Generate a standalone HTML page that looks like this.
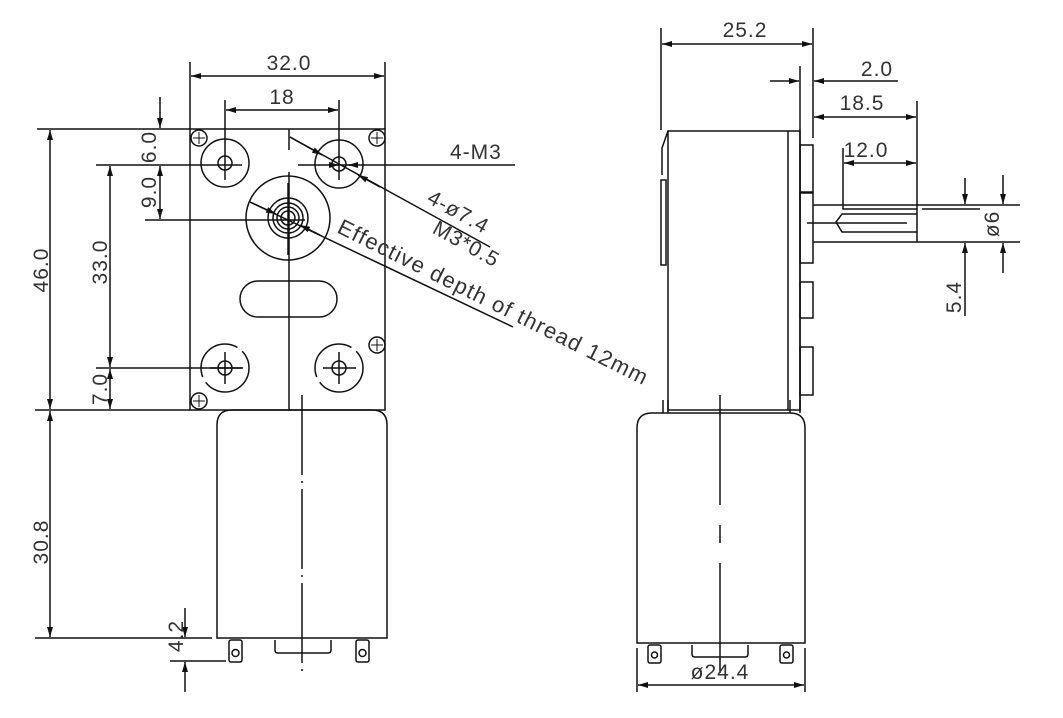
<!DOCTYPE html>
<html><head><meta charset="utf-8"><style>
html,body{margin:0;padding:0;background:#fff}
svg{display:block}
text{font-family:"Liberation Sans",sans-serif;font-size:21px;letter-spacing:1px;fill:#333}
</style></head><body>
<svg width="1063" height="718" viewBox="0 0 1063 718" xmlns="http://www.w3.org/2000/svg">
<defs>
<marker id="a" viewBox="0 0 10 6" refX="10" refY="3" markerWidth="10" markerHeight="6" orient="auto-start-reverse" markerUnits="userSpaceOnUse">
<path d="M0,0 L10,3 L0,6 z" fill="#111"/></marker>
</defs>
<g stroke="#111" stroke-width="1.5" fill="none">
<rect x="190" y="129" width="195" height="281"/>
<line x1="37" y1="129" x2="190" y2="129"/>
<line x1="35" y1="410" x2="190" y2="410"/>
<line x1="289" y1="129" x2="289" y2="150"/>
<line x1="289" y1="172" x2="289" y2="410"/>
<circle cx="225" cy="163" r="24"/><circle cx="225" cy="163" r="7"/>
<circle cx="339" cy="164" r="24"/><circle cx="339" cy="164" r="7"/>
<circle cx="225" cy="368" r="24" stroke-dasharray="60 6"/><circle cx="225" cy="368" r="7"/>
<circle cx="339" cy="368" r="24" stroke-dasharray="60 6"/><circle cx="339" cy="368" r="7"/>
<line x1="225" y1="100" x2="225" y2="180"/>
<line x1="339" y1="100" x2="339" y2="180"/>
<line x1="225" y1="352" x2="225" y2="384"/><line x1="210" y1="368" x2="243" y2="368"/>
<line x1="339" y1="352" x2="339" y2="384"/><line x1="323" y1="368" x2="356" y2="368"/>
<circle cx="288" cy="218" r="42"/>
<circle cx="288" cy="218" r="20"/><circle cx="288" cy="218" r="15"/>
<circle cx="288" cy="218" r="11"/><circle cx="288" cy="218" r="7"/>
<line x1="288" y1="183" x2="288" y2="255"/>
<rect x="240" y="281" width="97" height="36" rx="18"/>
<circle cx="199" cy="138" r="8"/><circle cx="377" cy="138" r="8"/>
<circle cx="377" cy="345" r="8"/><circle cx="199" cy="401" r="8"/>
<path d="M193,138h12M199,132v12M371,138h12M377,132v12M371,345h12M377,339v12M193,401h12M199,395v12" stroke-width="1"/>
<line x1="190" y1="62" x2="190" y2="129"/><line x1="385" y1="62" x2="385" y2="129"/>
<line x1="191" y1="76" x2="384" y2="76" marker-start="url(#a)" marker-end="url(#a)"/>
<line x1="226" y1="110" x2="338" y2="110" marker-start="url(#a)" marker-end="url(#a)"/>
<line x1="50" y1="130" x2="50" y2="409" marker-start="url(#a)" marker-end="url(#a)"/>
<line x1="96" y1="165" x2="242" y2="165"/>
<line x1="96" y1="368" x2="242" y2="368"/>
<line x1="110" y1="166" x2="110" y2="367" marker-start="url(#a)" marker-end="url(#a)"/>
<line x1="110" y1="369" x2="110" y2="409" marker-start="url(#a)" marker-end="url(#a)"/>
<line x1="160" y1="97" x2="160" y2="128" marker-end="url(#a)"/>
<line x1="160" y1="166" x2="160" y2="219" marker-start="url(#a)" marker-end="url(#a)"/>
<line x1="145" y1="220" x2="305" y2="220"/>
<line x1="298" y1="165" x2="515" y2="165"/>
<line x1="330" y1="165" x2="339" y2="165" marker-end="url(#a)"/>
<line x1="358" y1="165" x2="348" y2="165" marker-end="url(#a)"/>
<line x1="290" y1="137" x2="490" y2="247"/>
<line x1="290" y1="137" x2="322" y2="155" marker-end="url(#a)"/>
<line x1="380" y1="187" x2="358" y2="175" marker-end="url(#a)"/>
<line x1="250" y1="202" x2="513" y2="327"/>
<line x1="250" y1="202" x2="276" y2="214" marker-end="url(#a)"/>
<line x1="320" y1="235" x2="300" y2="225" marker-end="url(#a)"/>
<path d="M217,638 V425 Q217,410 232,410 H372 Q387,410 387,425 V638 Z"/>
<line x1="302" y1="395" x2="302" y2="675" stroke-dasharray="80 6 2 6"/>
<rect x="229" y="640" width="13" height="22" rx="2"/><circle cx="235.5" cy="653" r="3.5"/>
<rect x="356" y="640" width="13" height="22" rx="2"/><circle cx="362.5" cy="653" r="3.5"/>
<path d="M275,640 V650 Q275,653 278,653 H328 Q331,653 331,650 V640"/>
<line x1="35" y1="638" x2="212" y2="638"/>
<line x1="50" y1="411" x2="50" y2="637" marker-start="url(#a)" marker-end="url(#a)"/>
<line x1="170" y1="661" x2="226" y2="661"/>
<line x1="185" y1="608" x2="185" y2="637" marker-end="url(#a)"/>
<line x1="185" y1="692" x2="185" y2="662" marker-end="url(#a)"/>
<rect x="668" y="131" width="132" height="279"/>
<line x1="788" y1="131" x2="788" y2="410"/>
<path d="M668,131 L662,148 V175"/>
<rect x="661" y="180" width="5" height="85"/>
<line x1="661" y1="28" x2="661" y2="130"/>
<line x1="800" y1="66" x2="800" y2="410"/>
<line x1="813" y1="28" x2="813" y2="138"/>
<rect x="800" y="145" width="13" height="47"/>
<rect x="800" y="193" width="13" height="70"/>
<rect x="800" y="282" width="13" height="36"/>
<rect x="800" y="347" width="13" height="48"/>
<line x1="662" y1="44" x2="812" y2="44" marker-start="url(#a)" marker-end="url(#a)"/>
<line x1="770" y1="81" x2="799" y2="81" marker-end="url(#a)"/>
<line x1="898" y1="81" x2="814" y2="81" marker-end="url(#a)"/>
<line x1="814" y1="117" x2="916" y2="117" marker-start="url(#a)" marker-end="url(#a)"/>
<line x1="917" y1="101" x2="917" y2="242"/>
<line x1="843" y1="148" x2="843" y2="207"/>
<line x1="844" y1="163" x2="916" y2="163" marker-start="url(#a)" marker-end="url(#a)"/>
<line x1="813" y1="205" x2="1020" y2="205"/>
<line x1="813" y1="242" x2="1020" y2="242"/>
<path d="M843,207 V209 H917 M922,209 H980"/>
<path d="M917,214 H842 L836,222 L842,232 H917"/>
<line x1="807" y1="223" x2="907" y2="223"/>
<line x1="1003" y1="175" x2="1003" y2="204" marker-end="url(#a)"/>
<line x1="1003" y1="273" x2="1003" y2="243" marker-end="url(#a)"/>
<line x1="965" y1="178" x2="965" y2="204" marker-end="url(#a)"/>
<line x1="965" y1="316" x2="965" y2="243" marker-end="url(#a)"/>
<line x1="663" y1="400" x2="663" y2="413"/><line x1="668" y1="400" x2="668" y2="413"/>
<line x1="790" y1="400" x2="790" y2="413"/><line x1="800" y1="400" x2="800" y2="413"/>
<path d="M637,643 V428 Q637,413 652,413 H790 Q805,413 805,428 V643 Z"/>
<line x1="720" y1="395" x2="720" y2="690" stroke-dasharray="110 20 18 20"/>
<rect x="648" y="645" width="13" height="18" rx="2"/><circle cx="654.5" cy="655" r="3"/>
<rect x="780" y="645" width="13" height="18" rx="2"/><circle cx="786.5" cy="655" r="3"/>
<path d="M692,645 V654 Q692,657 695,657 H745 Q748,657 748,654 V645"/>
<line x1="637" y1="648" x2="637" y2="692"/><line x1="805" y1="648" x2="805" y2="692"/>
<line x1="638" y1="685" x2="804" y2="685" marker-start="url(#a)" marker-end="url(#a)"/>
</g>
<text x="289" y="70" text-anchor="middle">32.0</text>
<text x="282" y="104" text-anchor="middle">18</text>
<text x="450" y="159">4-M3</text>
<text transform="translate(48,270) rotate(-90)" text-anchor="middle">46.0</text>
<text transform="translate(107,262) rotate(-90)" text-anchor="middle">33.0</text>
<text transform="translate(156,147) rotate(-90)" text-anchor="middle">6.0</text>
<text transform="translate(156,192) rotate(-90)" text-anchor="middle">9.0</text>
<text transform="translate(107,389) rotate(-90)" text-anchor="middle">7.0</text>
<text transform="translate(48,542) rotate(-90)" text-anchor="middle">30.8</text>
<text transform="translate(183,636) rotate(-90)" text-anchor="middle">4.2</text>
<text transform="translate(455,218) rotate(29)" text-anchor="middle">4-ø7.4</text>
<text transform="translate(463,250) rotate(29)" text-anchor="middle">M3*0.5</text>
<text transform="translate(336,232) rotate(26.5)" style="font-size:22px;letter-spacing:1.3px">Effective depth of thread 12mm</text>
<text x="745" y="37" text-anchor="middle">25.2</text>
<text x="877" y="76" text-anchor="middle">2.0</text>
<text x="862" y="110" text-anchor="middle">18.5</text>
<text x="866" y="157" text-anchor="middle">12.0</text>
<text transform="translate(999,224) rotate(-90)" text-anchor="middle">ø6</text>
<text transform="translate(961,297) rotate(-90)" text-anchor="middle">5.4</text>
<text x="720" y="679" text-anchor="middle">ø24.4</text>
</svg>
</body></html>
